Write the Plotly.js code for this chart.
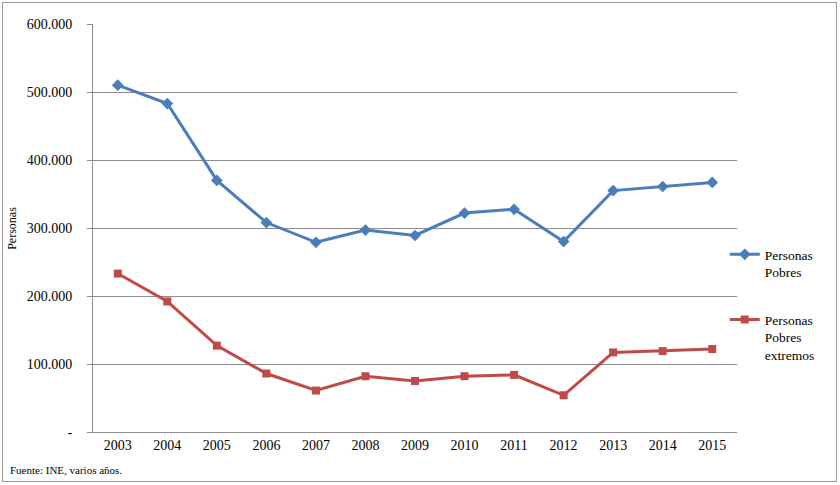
<!DOCTYPE html>
<html>
<head>
<meta charset="utf-8">
<script src="https://cdn.plot.ly/plotly-3.0.1.min.js"></script>
<style>
  html, body { margin: 0; padding: 0; background: #fff; }
  #chart { position: absolute; left: 0; top: 0; width: 840px; height: 485px; }
  #frame { position: absolute; left: 2px; top: 2px; width: 833px; height: 478px; border: 1px solid #9a9a9a; pointer-events: none; }
</style>
</head>
<body>
<div id="chart"></div>
<div id="frame"></div>
<script>
const years = ["2003","2004","2005","2006","2007","2008","2009","2010","2011","2012","2013","2014","2015"];
const pobres = [510000, 483000, 370000, 308000, 279000, 297000, 289000, 322000, 327500, 280000, 355000, 361000, 367000];
const extremos = [233000, 192000, 127000, 86000, 61000, 82000, 75000, 82000, 84000, 54000, 117000, 119000, 122000];
const yTickVals = [0, 100000, 200000, 300000, 400000, 500000, 600000];
const yTickText = ["-", "100.000", "200.000", "300.000", "400.000", "500.000", "600.000"];
const seriesNames = ["Personas<br>Pobres", "Personas<br>Pobres<br>extremos"];

const serif = "serif";

const traces = [
  {
    x: years, y: pobres, name: seriesNames[0], type: "scatter", mode: "lines+markers",
    line: {color: "#4a7ebb", width: 3},
    marker: {symbol: "diamond", size: 9, color: "#4a7ebb"},
    legendgroup: "a"
  },
  {
    x: years, y: extremos, name: seriesNames[1], type: "scatter", mode: "lines+markers",
    line: {color: "#be4b48", width: 3},
    marker: {symbol: "square", size: 8, color: "#be4b48"},
    legendgroup: "b"
  }
];

const layout = {
  width: 840, height: 485,
  margin: {l: 93, r: 103, t: 24, b: 53},
  paper_bgcolor: "#fff", plot_bgcolor: "#fff",
  font: {family: serif, size: 13, color: "#000"},
  showlegend: true,
  legend: {
    x: 0.981, xanchor: "left", y: 0.473, yanchor: "top",
    font: {family: serif, size: 13.5, color: "#000"},
    valign: "top", tracegroupgap: 27, bgcolor: "rgba(0,0,0,0)",
    itemwidth: 30
  },
  xaxis: {
    type: "category", range: [-0.5, 12.5],
    showgrid: false, showline: true, linecolor: "#8c8c8c", linewidth: 1,
    ticks: "", tickfont: {family: serif, size: 14, color: "#000"},
    zeroline: false, fixedrange: true
  },
  yaxis: {
    range: [0, 600000], tickvals: yTickVals, ticktext: yTickText,
    showgrid: true, gridcolor: "#8c8c8c", gridwidth: 1,
    showline: true, linecolor: "#8c8c8c", linewidth: 1,
    ticks: "outside", ticklen: 5, tickcolor: "#8c8c8c",
    ticklabelstandoff: 12,
    tickfont: {family: serif, size: 14, color: "#000"},
    zeroline: false, fixedrange: true
  },
  annotations: [
    {
      text: "Personas", xref: "paper", yref: "paper",
      x: -0.126, y: 0.5, xanchor: "center", yanchor: "middle", textangle: -90,
      showarrow: false, font: {family: serif, size: 12, color: "#000"}
    },
    {
      text: "Fuente: INE, varios años.", xref: "paper", yref: "paper",
      x: -0.132, y: -0.093, xanchor: "left", yanchor: "middle",
      showarrow: false, font: {family: serif, size: 11, color: "#000"}
    }
  ]
};

Plotly.newPlot("chart", traces, layout, {staticPlot: true, displayModeBar: false});
</script>
</body>
</html>
